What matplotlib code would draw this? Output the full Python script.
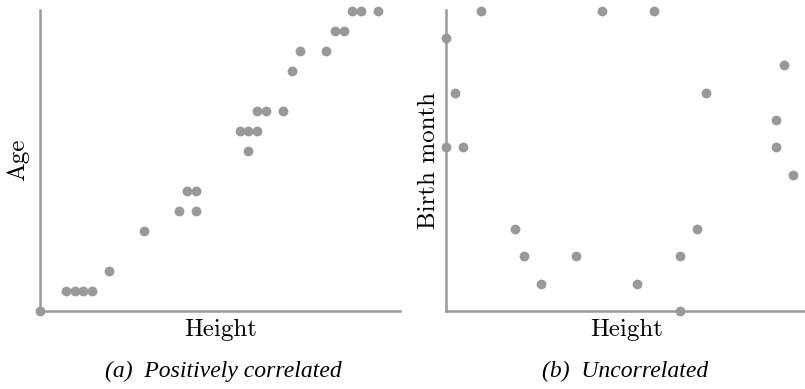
import matplotlib
matplotlib.use("Agg")
import matplotlib.pyplot as plt

# (a) positively correlated: height vs age
pos_height = [0, 3, 4, 5, 6, 8, 12, 16, 18, 17, 18, 23, 24, 25, 24,
              25, 26, 28, 29, 30, 33, 34, 35, 36, 37, 39]
pos_age = [0, 1, 1, 1, 1, 2, 4, 5, 5, 6, 6, 9, 9, 9, 8,
           10, 10, 10, 12, 13, 13, 14, 14, 15, 15, 15]

# (b) uncorrelated: height vs birth month
unc_height = [4, 18, 24, 0, 39, 1, 30, 38, 0, 2, 38, 40,
              8, 29, 9, 15, 27, 11, 22, 27]
unc_month = [11, 11, 11, 10, 9, 8, 8, 7, 6, 6, 6, 5,
             3, 3, 2, 2, 2, 1, 1, 0]

grey = "#999999"
label_font = "cmr10"
caption_font = "Liberation Serif"

fig = plt.figure(figsize=(8.05, 3.89), dpi=100)
W, H = 805, 389


def make_axes(left_px, right_px, top_px, bottom_px):
    return fig.add_axes([left_px / W, (H - bottom_px) / H,
                         (right_px - left_px) / W, (bottom_px - top_px) / H])


ax1 = make_axes(40, 400, 10, 311)
ax2 = make_axes(446, 805, 10, 311)

for ax in (ax1, ax2):
    for s in ("top", "right"):
        ax.spines[s].set_visible(False)
    for s in ("left", "bottom"):
        ax.spines[s].set_color(grey)
        ax.spines[s].set_linewidth(1.8)
    ax.set_xticks([])
    ax.set_yticks([])

ax1.scatter(pos_height, pos_age, s=50, color=grey, clip_on=False, zorder=3, linewidths=0)
ax1.set_xlim(0, 41.5)
ax1.set_ylim(0, 15.05)

ax2.scatter(unc_height, unc_month, s=50, color=grey, clip_on=False, zorder=3, linewidths=0)
ax2.set_xlim(0, 41.4)
ax2.set_ylim(0, 11.03)

# axis labels
fig.text(221 / W, 1 - 330 / H, "Height", fontfamily=label_font, fontsize=18,
         ha="center", va="center")
fig.text(627 / W, 1 - 330 / H, "Height", fontfamily=label_font, fontsize=18,
         ha="center", va="center")
fig.text(18 / W, 1 - 160 / H, "Age", fontfamily=label_font, fontsize=18,
         ha="center", va="center", rotation=90)
fig.text(429 / W, 1 - 160 / H, "Birth month", fontfamily=label_font, fontsize=18,
         ha="center", va="center", rotation=90)

# captions
fig.text(223 / W, 1 - 371 / H, "(a)  Positively correlated", fontfamily=caption_font,
         style="italic", fontsize=17, ha="center", va="center")
fig.text(625 / W, 1 - 371 / H, "(b)  Uncorrelated", fontfamily=caption_font,
         style="italic", fontsize=17, ha="center", va="center")

fig.savefig("out.png", dpi=100)
